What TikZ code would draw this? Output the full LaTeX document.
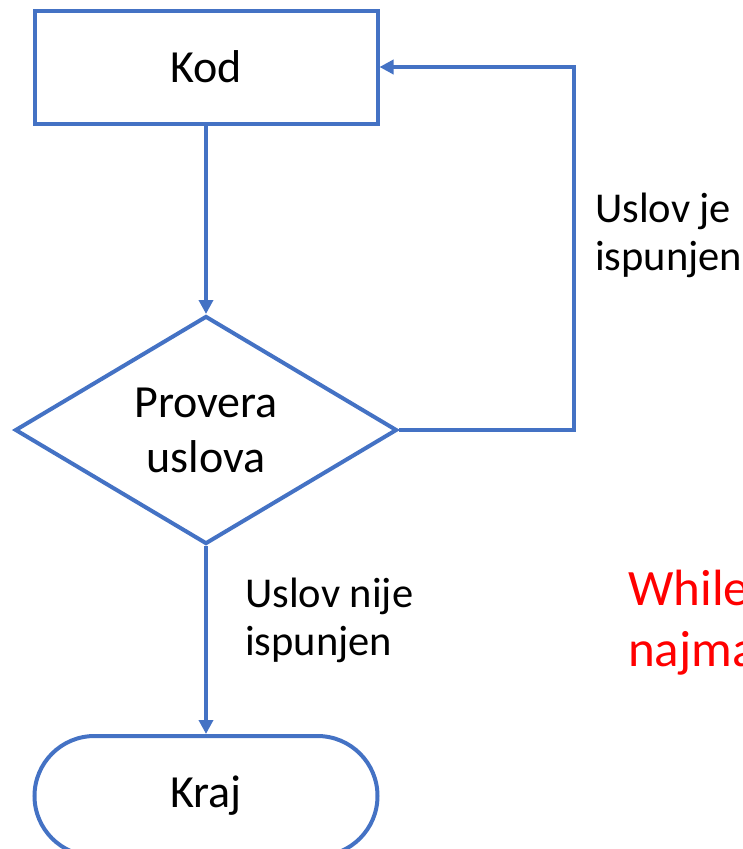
\documentclass[tikz,border=0pt]{standalone}
\usepackage{fontspec}
\setmainfont{Carlito}
\usetikzlibrary{arrows.meta,shapes.geometric,shapes.misc}
\definecolor{flowblue}{HTML}{4472C4}
\definecolor{notered}{HTML}{FF0000}
\begin{document}
\begin{tikzpicture}[x=1pt,y=-1pt,
  flowline/.style={draw=flowblue,line width=4pt},
  flowarrow/.style={flowline,-{Triangle[length=14pt,width=14pt]}},
  boxtext/.style={font=\fontsize{46}{55}\selectfont,text=black},
  labeltext/.style={font=\fontsize{42.5}{50}\selectfont,text=black,anchor=base west,inner sep=0pt},
  notetext/.style={font=\fontsize{51}{61}\selectfont,text=notered,anchor=base west,inner sep=0pt},
  process/.style={flowline,rectangle,minimum width=343pt,minimum height=113pt,inner sep=0pt,boxtext},
  decision/.style={flowline,diamond,shape aspect=1.667,minimum width=382pt,minimum height=228pt,inner sep=0pt,align=center,boxtext},
  terminal/.style={flowline,rounded rectangle,minimum width=343pt,minimum height=120pt,inner sep=0pt,boxtext}]
  \clip (0,0) rectangle (743,849);

  % flowchart blocks
  \node[process]  (kod)  at (206,67)  {Kod};
  \node[decision] (dec)  at (206,430) {Provera\\uslova};
  \node[terminal] (kraj) at (206,796) {Kraj};

  % connectors
  \coordinate (turn) at (574,67);
  \draw[flowarrow] (kod.south) -- (dec.north);
  \draw[flowarrow] (dec.east) -| (turn) -- (kod.east);
  \draw[flowarrow] (dec.south) -- (kraj.north);

  % branch labels
  \node[labeltext] (yes1) at (595,222) {Uslov je};
  \node[labeltext] (yes2) at (595,270) {ispunjen};
  \node[labeltext] (no1)  at (245,607) {Uslov nije};
  \node[labeltext] (no2)  at (245,655) {ispunjen};

  % side note
  \node[notetext] (note1) at (628,605) {While};
  \node[notetext] (note2) at (628,666) {najmanje};
\end{tikzpicture}
\end{document}
